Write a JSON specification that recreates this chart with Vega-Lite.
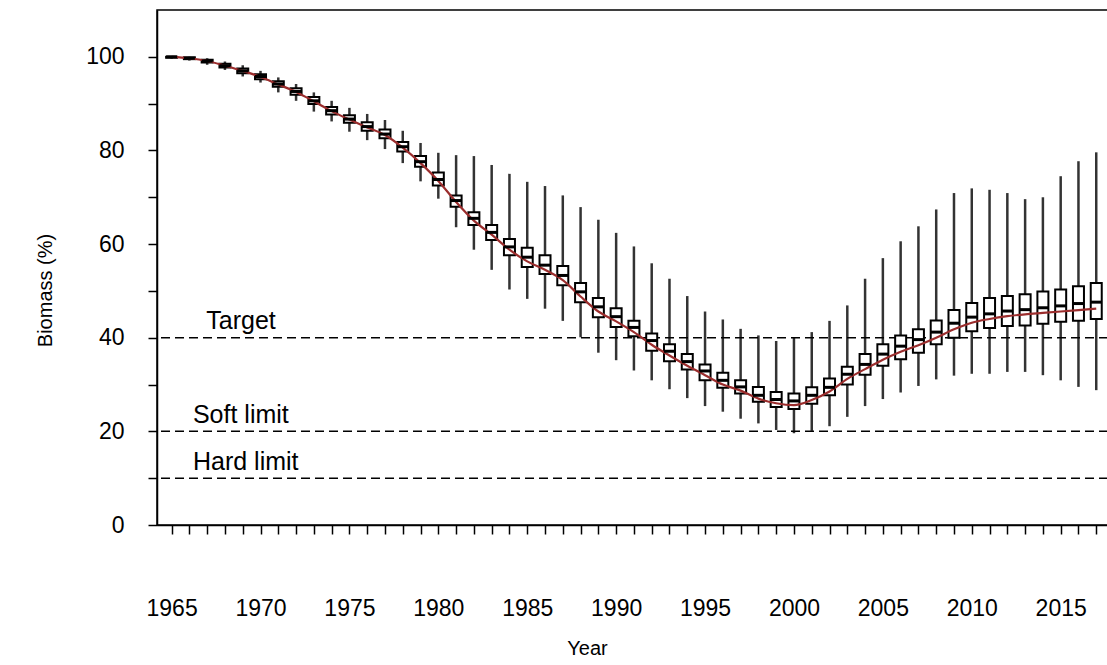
{
  "$schema": "https://vega.github.io/schema/vega-lite/v6.json",
  "width": 951,
  "height": 515,
  "autosize": {"type": "none"},
  "padding": {"left": 157, "top": 10, "right": 0, "bottom": 140},
  "background": "white",
  "config": {
    "view": {"stroke": "black", "strokeWidth": 1.5},
    "font": "Liberation Sans",
    "axis": {
      "grid": false,
      "domainColor": "black",
      "domainWidth": 1.5,
      "tickColor": "black",
      "tickWidth": 1.5,
      "tickSize": 9,
      "labelColor": "black",
      "titleColor": "black",
      "labelFont": "Liberation Sans",
      "titleFont": "Liberation Sans",
      "labelFontSize": 23,
      "titleFontSize": 20,
      "titleFontWeight": "normal"
    }
  },
  "datasets": {
    "boxes": [
      {"year": 1965, "lo": 99.6, "q1": 99.8, "med": 100.0, "q3": 100.0, "hi": 100.0, "mpd": 100.0},
      {"year": 1966, "lo": 99.2, "q1": 99.5, "med": 99.7, "q3": 99.9, "hi": 100.0, "mpd": 99.7},
      {"year": 1967, "lo": 98.3, "q1": 98.8, "med": 99.1, "q3": 99.4, "hi": 99.7, "mpd": 99.1},
      {"year": 1968, "lo": 97.2, "q1": 97.7, "med": 98.1, "q3": 98.5, "hi": 99.0, "mpd": 98.1},
      {"year": 1969, "lo": 95.8, "q1": 96.5, "med": 97.0, "q3": 97.5, "hi": 98.2, "mpd": 97.0},
      {"year": 1970, "lo": 94.5, "q1": 95.2, "med": 95.8, "q3": 96.3, "hi": 97.0, "mpd": 95.7},
      {"year": 1971, "lo": 92.4, "q1": 93.6, "med": 94.2, "q3": 94.8, "hi": 95.6, "mpd": 94.1},
      {"year": 1972, "lo": 90.6, "q1": 91.9, "med": 92.6, "q3": 93.3, "hi": 94.2, "mpd": 92.5},
      {"year": 1973, "lo": 88.3, "q1": 89.9, "med": 90.6, "q3": 91.4, "hi": 92.4, "mpd": 90.5},
      {"year": 1974, "lo": 86.2, "q1": 87.7, "med": 88.5, "q3": 89.3, "hi": 90.6, "mpd": 88.4},
      {"year": 1975, "lo": 84.0, "q1": 85.9, "med": 86.7, "q3": 87.5, "hi": 89.1, "mpd": 86.6},
      {"year": 1976, "lo": 82.2, "q1": 84.2, "med": 85.1, "q3": 86.0, "hi": 87.8, "mpd": 84.9},
      {"year": 1977, "lo": 80.3, "q1": 82.6, "med": 83.5, "q3": 84.5, "hi": 86.5, "mpd": 83.3},
      {"year": 1978, "lo": 77.3, "q1": 79.8, "med": 80.8, "q3": 81.8, "hi": 84.2, "mpd": 80.6},
      {"year": 1979, "lo": 73.4, "q1": 76.5, "med": 77.6, "q3": 78.8, "hi": 81.6, "mpd": 77.3},
      {"year": 1980, "lo": 69.7, "q1": 72.5, "med": 73.8, "q3": 75.3, "hi": 79.5, "mpd": 73.5},
      {"year": 1981, "lo": 63.6, "q1": 68.0, "med": 69.3, "q3": 70.4, "hi": 79.0, "mpd": 69.0},
      {"year": 1982, "lo": 58.8, "q1": 64.1, "med": 65.5, "q3": 66.8, "hi": 78.8, "mpd": 65.0},
      {"year": 1983, "lo": 54.5, "q1": 60.9, "med": 62.5, "q3": 64.1, "hi": 76.9, "mpd": 62.0},
      {"year": 1984, "lo": 50.3, "q1": 57.6, "med": 59.4, "q3": 61.1, "hi": 75.0, "mpd": 58.8},
      {"year": 1985, "lo": 48.3, "q1": 55.1, "med": 57.2, "q3": 59.2, "hi": 73.3, "mpd": 56.3},
      {"year": 1986, "lo": 46.2, "q1": 53.6, "med": 55.5, "q3": 57.6, "hi": 72.4, "mpd": 54.5},
      {"year": 1987, "lo": 43.6, "q1": 51.2, "med": 53.3, "q3": 55.3, "hi": 70.4, "mpd": 52.3},
      {"year": 1988, "lo": 40.1, "q1": 47.6, "med": 49.8, "q3": 51.7, "hi": 67.9, "mpd": 48.8},
      {"year": 1989, "lo": 36.8, "q1": 44.4, "med": 46.6, "q3": 48.5, "hi": 65.2, "mpd": 45.6},
      {"year": 1990, "lo": 35.2, "q1": 42.3, "med": 44.5, "q3": 46.3, "hi": 62.4, "mpd": 43.5},
      {"year": 1991, "lo": 33.0, "q1": 40.3, "med": 42.2, "q3": 43.6, "hi": 59.5, "mpd": 41.2},
      {"year": 1992, "lo": 30.9, "q1": 37.2, "med": 39.4, "q3": 40.9, "hi": 55.9, "mpd": 38.5},
      {"year": 1993, "lo": 29.0, "q1": 35.0, "med": 37.1, "q3": 38.6, "hi": 52.6, "mpd": 36.2},
      {"year": 1994, "lo": 27.1, "q1": 33.2, "med": 34.9, "q3": 36.5, "hi": 48.9, "mpd": 34.0},
      {"year": 1995, "lo": 25.4, "q1": 30.9, "med": 32.9, "q3": 34.3, "hi": 45.6, "mpd": 32.0},
      {"year": 1996, "lo": 24.2, "q1": 29.3, "med": 30.9, "q3": 32.5, "hi": 43.9, "mpd": 30.0},
      {"year": 1997, "lo": 22.7, "q1": 28.1, "med": 29.5, "q3": 30.9, "hi": 41.9, "mpd": 28.7},
      {"year": 1998, "lo": 21.7, "q1": 26.3, "med": 27.7, "q3": 29.5, "hi": 40.5, "mpd": 27.0},
      {"year": 1999, "lo": 20.3, "q1": 25.2, "med": 26.8, "q3": 28.4, "hi": 39.3, "mpd": 26.0},
      {"year": 2000, "lo": 19.6, "q1": 24.8, "med": 26.5, "q3": 28.1, "hi": 40.0, "mpd": 25.6},
      {"year": 2001, "lo": 20.1, "q1": 25.9, "med": 27.7, "q3": 29.4, "hi": 41.2, "mpd": 26.7},
      {"year": 2002, "lo": 21.1, "q1": 27.7, "med": 29.4, "q3": 31.3, "hi": 43.6, "mpd": 28.5},
      {"year": 2003, "lo": 23.1, "q1": 30.0, "med": 32.2, "q3": 33.8, "hi": 46.9, "mpd": 31.2},
      {"year": 2004, "lo": 25.4, "q1": 32.1, "med": 34.3, "q3": 36.5, "hi": 52.6, "mpd": 33.3},
      {"year": 2005, "lo": 26.9, "q1": 34.0, "med": 36.5, "q3": 38.6, "hi": 57.0, "mpd": 35.3},
      {"year": 2006, "lo": 28.3, "q1": 35.4, "med": 38.2, "q3": 40.5, "hi": 60.6, "mpd": 37.0},
      {"year": 2007, "lo": 29.7, "q1": 36.8, "med": 39.6, "q3": 41.8, "hi": 63.8, "mpd": 38.4},
      {"year": 2008, "lo": 31.1, "q1": 38.6, "med": 41.2, "q3": 43.7, "hi": 67.4, "mpd": 40.0},
      {"year": 2009, "lo": 31.9, "q1": 40.0, "med": 43.1, "q3": 45.9, "hi": 70.9, "mpd": 41.8},
      {"year": 2010, "lo": 32.3, "q1": 41.4, "med": 44.4, "q3": 47.4, "hi": 71.9, "mpd": 43.2},
      {"year": 2011, "lo": 32.3, "q1": 42.1, "med": 45.1, "q3": 48.5, "hi": 71.6, "mpd": 44.0},
      {"year": 2012, "lo": 32.7, "q1": 42.5, "med": 45.7, "q3": 48.9, "hi": 70.9, "mpd": 44.6},
      {"year": 2013, "lo": 32.7, "q1": 42.6, "med": 46.0, "q3": 49.3, "hi": 69.6, "mpd": 45.0},
      {"year": 2014, "lo": 32.0, "q1": 43.0, "med": 46.4, "q3": 49.9, "hi": 70.0, "mpd": 45.3},
      {"year": 2015, "lo": 30.9, "q1": 43.4, "med": 46.8, "q3": 50.3, "hi": 74.5, "mpd": 45.6},
      {"year": 2016, "lo": 29.5, "q1": 43.6, "med": 47.3, "q3": 51.0, "hi": 77.7, "mpd": 45.9},
      {"year": 2017, "lo": 28.8, "q1": 44.0, "med": 47.6, "q3": 51.7, "hi": 79.6, "mpd": 46.2}
    ],
    "limits": [
      {"name": "Target", "level": 40},
      {"name": "Soft limit", "level": 20},
      {"name": "Hard limit", "level": 10}
    ]
  },
  "layer": [
    {
      "data": {"name": "boxes"},
      "mark": {"type": "rule", "color": "#333333", "strokeWidth": 2.5, "clip": true},
      "encoding": {
        "x": {
          "field": "year", "type": "quantitative",
          "scale": {"domain": [1964.46, 2017.38], "nice": false, "zero": false},
          "axis": {
            "title": "Year",
            "values": [1965,1966,1967,1968,1969,1970,1971,1972,1973,1974,1975,1976,1977,1978,1979,1980,1981,1982,1983,1984,1985,1986,1987,1988,1989,1990,1991,1992,1993,1994,1995,1996,1997,1998,1999,2000,2001,2002,2003,2004,2005,2006,2007,2008,2009,2010,2011,2012,2013,2014,2015,2016,2017],
            "tickCount": 100,
            "format": "d",
            "labelExpr": "datum.value % 5 == 0 ? datum.label : ''",
            "labelPadding": 63,
            "labelFlush": false,
            "labelOverlap": false,
            "labelBound": false,
            "titlePadding": 18,
            "titleX": 430
          }
        },
        "y": {
          "field": "lo", "type": "quantitative",
          "scale": {"domain": [0, 110], "nice": false, "zero": true},
          "axis": {
            "title": "Biomass (%)",
            "values": [0, 10, 20, 30, 40, 50, 60, 70, 80, 90, 100],
            "tickCount": 100,
            "labelExpr": "datum.value % 20 == 0 ? datum.label : ''",
            "labelPadding": 24,
            "labelOverlap": false,
            "titlePadding": 30,
            "titleY": 280
          }
        },
        "y2": {"field": "hi"}
      }
    },
    {
      "data": {"name": "limits"},
      "mark": {"type": "rule", "color": "black", "strokeWidth": 1.5, "strokeDash": [9, 5]},
      "encoding": {
        "y": {"field": "level", "type": "quantitative"}
      }
    },
    {
      "data": {"name": "limits"},
      "transform": [{"filter": "datum.name == 'Target'"}],
      "mark": {"type": "text", "align": "left", "baseline": "alphabetic", "dy": -9, "fontSize": 25, "font": "Liberation Sans", "color": "black"},
      "encoding": {
        "x": {
          "datum": 1966.95, "type": "quantitative",
          "axis": {
            "title": "Year",
            "values": [1965,1966,1967,1968,1969,1970,1971,1972,1973,1974,1975,1976,1977,1978,1979,1980,1981,1982,1983,1984,1985,1986,1987,1988,1989,1990,1991,1992,1993,1994,1995,1996,1997,1998,1999,2000,2001,2002,2003,2004,2005,2006,2007,2008,2009,2010,2011,2012,2013,2014,2015,2016,2017],
            "tickCount": 100,
            "format": "d",
            "labelExpr": "datum.value % 5 == 0 ? datum.label : ''",
            "labelPadding": 63,
            "labelFlush": false,
            "labelOverlap": false,
            "labelBound": false,
            "titlePadding": 18,
            "titleX": 430
          }
        },
        "y": {"field": "level", "type": "quantitative"},
        "text": {"field": "name"}
      }
    },
    {
      "data": {"name": "limits"},
      "transform": [{"filter": "datum.name != 'Target'"}],
      "mark": {"type": "text", "align": "left", "baseline": "alphabetic", "dy": -8, "fontSize": 25, "font": "Liberation Sans", "color": "black"},
      "encoding": {
        "x": {
          "datum": 1966.2, "type": "quantitative",
          "axis": {
            "title": "Year",
            "values": [1965,1966,1967,1968,1969,1970,1971,1972,1973,1974,1975,1976,1977,1978,1979,1980,1981,1982,1983,1984,1985,1986,1987,1988,1989,1990,1991,1992,1993,1994,1995,1996,1997,1998,1999,2000,2001,2002,2003,2004,2005,2006,2007,2008,2009,2010,2011,2012,2013,2014,2015,2016,2017],
            "tickCount": 100,
            "format": "d",
            "labelExpr": "datum.value % 5 == 0 ? datum.label : ''",
            "labelPadding": 63,
            "labelFlush": false,
            "labelOverlap": false,
            "labelBound": false,
            "titlePadding": 18,
            "titleX": 430
          }
        },
        "y": {"field": "level", "type": "quantitative"},
        "text": {"field": "name"}
      }
    },
    {
      "data": {"name": "boxes"},
      "mark": {"type": "bar", "width": 11, "fill": "white", "stroke": "black", "strokeWidth": 2, "clip": true},
      "encoding": {
        "x": {"field": "year", "type": "quantitative"},
        "y": {"field": "q1", "type": "quantitative"},
        "y2": {"field": "q3"}
      }
    },
    {
      "data": {"name": "boxes"},
      "mark": {"type": "line", "color": "#9b2d2d", "strokeWidth": 2.2, "clip": true, "interpolate": "monotone"},
      "encoding": {
        "x": {"field": "year", "type": "quantitative"},
        "y": {"field": "mpd", "type": "quantitative"}
      }
    },
    {
      "data": {"name": "boxes"},
      "mark": {"type": "tick", "orient": "horizontal", "size": 11, "thickness": 3, "color": "black", "opacity": 1, "clip": true},
      "encoding": {
        "x": {"field": "year", "type": "quantitative"},
        "y": {"field": "med", "type": "quantitative"}
      }
    }
  ]
}
